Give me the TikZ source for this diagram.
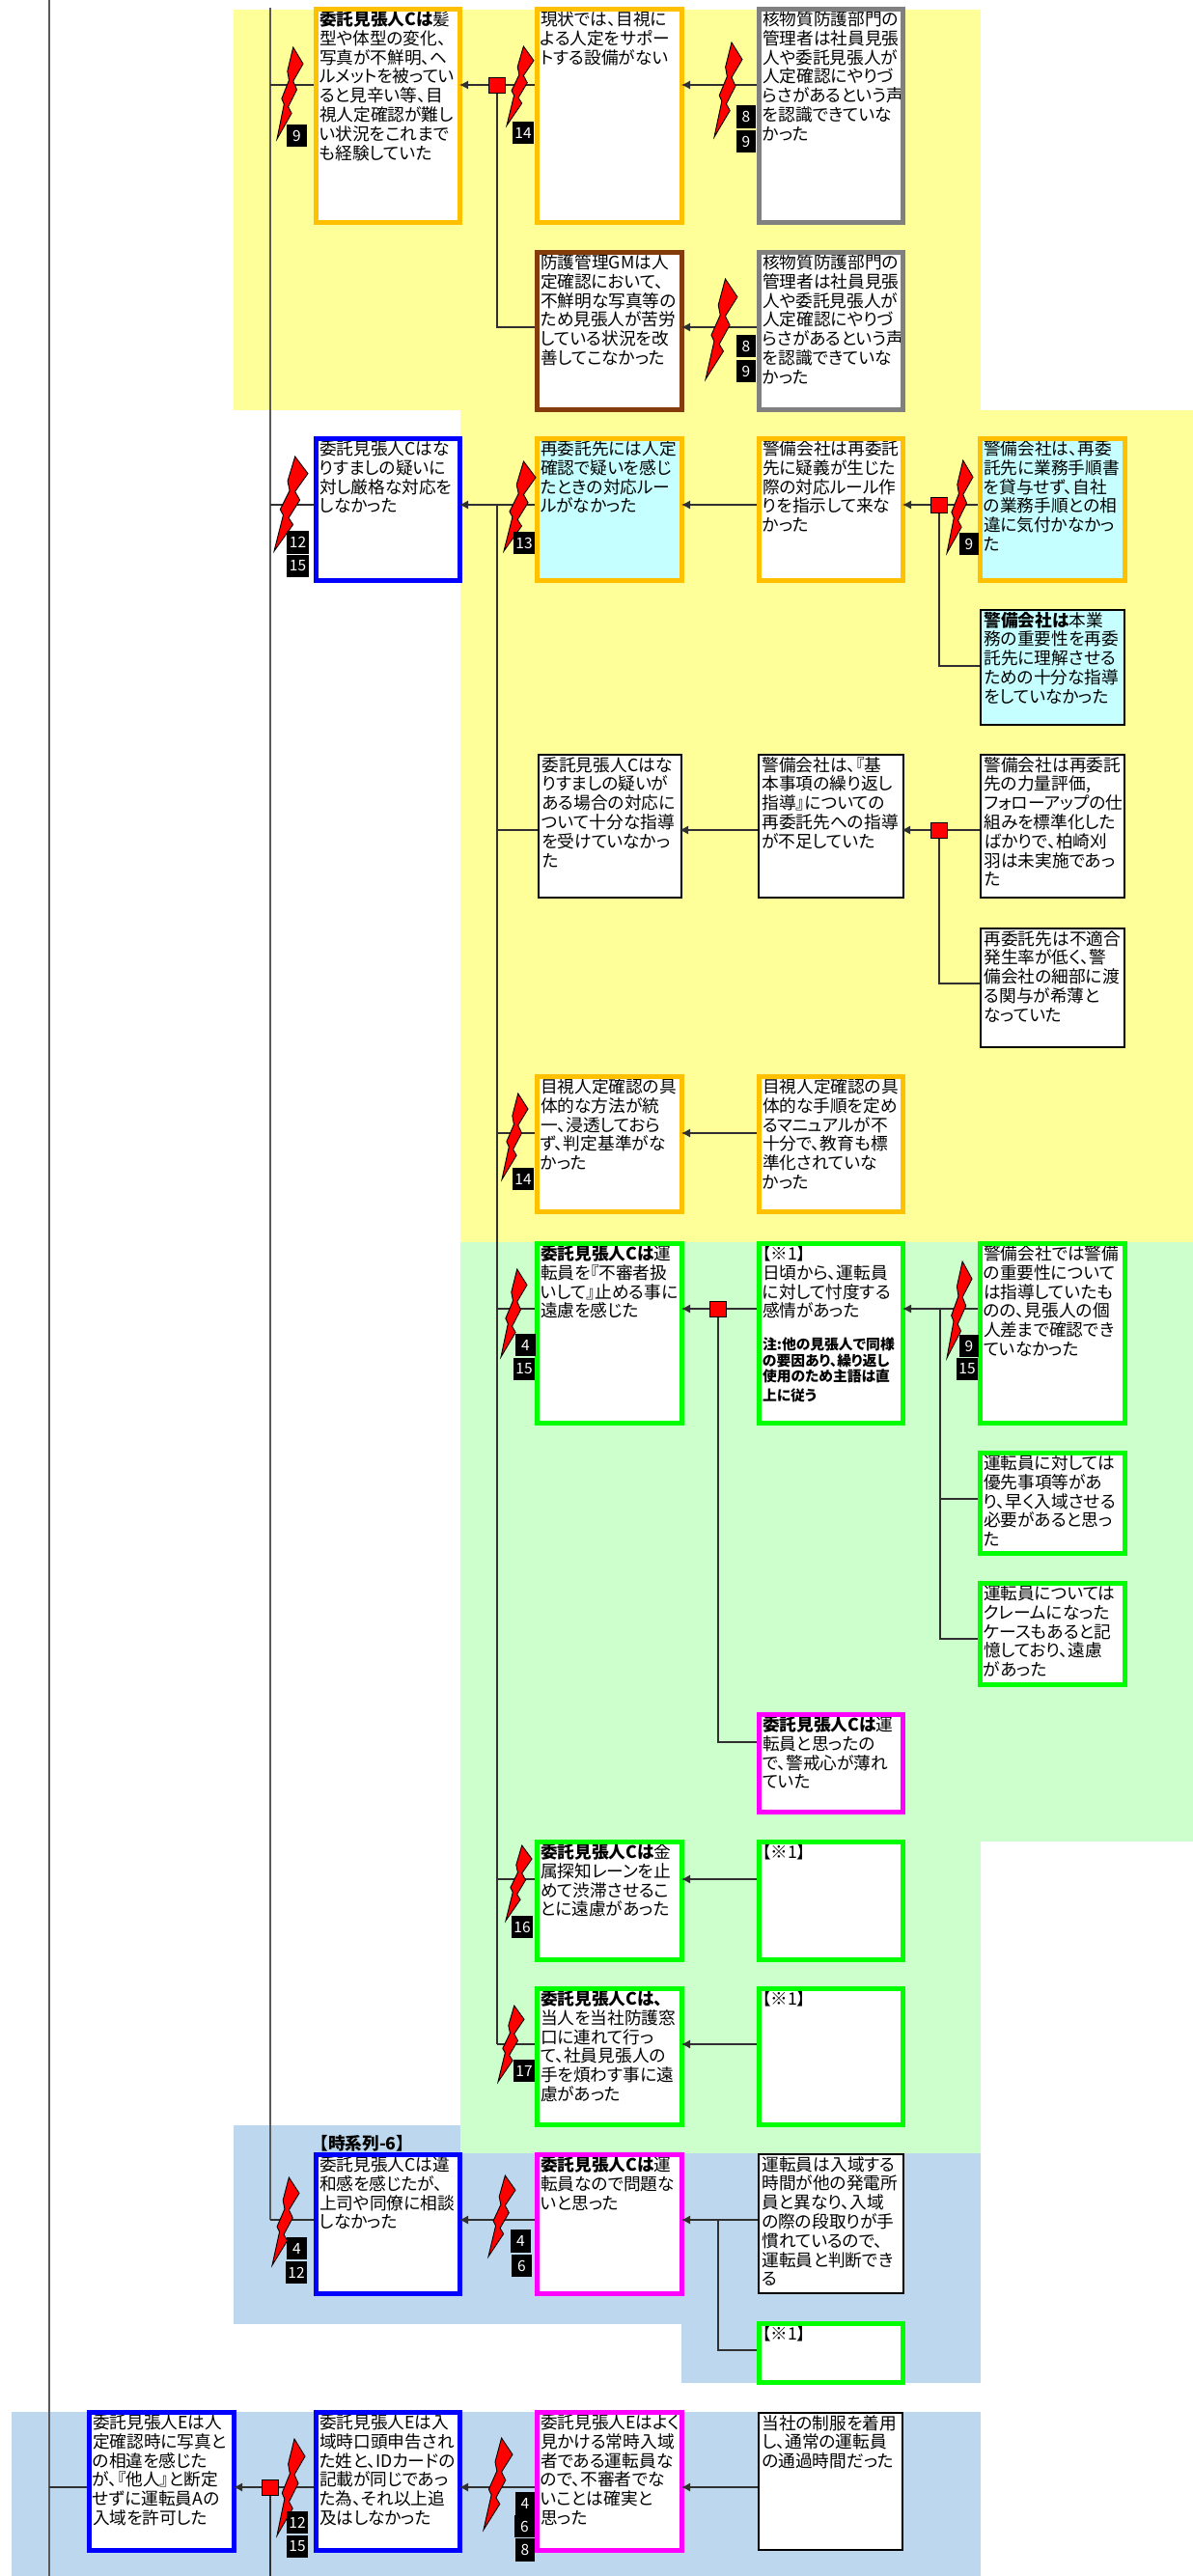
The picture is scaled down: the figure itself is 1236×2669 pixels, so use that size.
\documentclass[tikz,border=0pt]{standalone}
\usepackage{fontspec}
\setmainfont{Noto Sans CJK JP}[RawFeature=+palt]
\usetikzlibrary{arrows.meta,calc}
\definecolor{yel}{HTML}{FFFF99}
\definecolor{grn}{HTML}{CCFFCC}
\definecolor{blu}{HTML}{BDD7EE}
\definecolor{cya}{HTML}{C6FFFF}
\definecolor{org}{HTML}{FFC000}
\definecolor{brn}{HTML}{843C0C}
\definecolor{gry}{HTML}{808080}
\definecolor{ln}{HTML}{303030}
\definecolor{mainln}{HTML}{595959}
\definecolor{mag}{RGB}{255,0,255}
\definecolor{gre}{RGB}{0,255,0}
\definecolor{blb}{RGB}{0,0,255}
\definecolor{rd}{RGB}{255,0,0}
\tikzset{
  obox/.style={draw=org,fill=white},
  oboxc/.style={draw=org,fill=cya},
  bbox/.style={draw=blb,fill=white},
  gbox/.style={draw=gre,fill=white},
  mbox/.style={draw=mag,fill=white},
  brbox/.style={draw=brn,fill=white},
  gybox/.style={draw=gry,fill=white},
  kbox/.style={draw=black,fill=white},
  kboxc/.style={draw=black,fill=cya},
  conn/.style={draw=ln,line width=1.2pt},
  arr/.style={draw=ln,line width=1.2pt,-{Latex[length=9pt,width=9pt]},shorten >=-3pt},
  trunk/.style={draw=mainln,line width=2pt},
  junc/.style={draw=black,line width=1pt,fill=rd,minimum width=17pt,minimum height=16pt,inner sep=0pt},
  badge/.style={fill=black,text=white,inner sep=0pt,font=\fontsize{15.5}{16}\selectfont},
  boltst/.style={draw=black,line width=0.9pt,fill=rd,line join=miter},
}
% lw name x1 y1 x2 y2 style text
\newcommand\bx[8]{%
  \node[#7,line width=#1pt,anchor=north west,inner sep=0pt] (#2) at (#3,#4)
  {\parbox[t][\dimexpr#6pt-#4pt-#1pt\relax][t]{\dimexpr#5pt-#3pt-#1pt\relax}{%
    \fontsize{17.7}{19.8}\selectfont\lineskiplimit=-100pt\hbadness=10000\hfuzz=200pt
    \leftskip=3.5pt\rightskip=0pt plus 1fil\rule{0pt}{17pt}#8}};
  \path[#7,fill=none,line width=#1pt] ({#3+#1/2},{#4+#1/2}) rectangle ({#5-#1/2},{#6-#1/2});}
\newcommand\bdg[6]{%
  \node[badge,minimum width={#4pt-#2pt},minimum height={#5pt-#3pt}] (#1) at ({(#2+#4)/2},{(#3+#5)/2}) {#6};}
\newcommand\bolt[4]{%
  \begin{scope}[shift={(#1,#2)},xscale={#3-#1},yscale={#4-#2}]
    \path[boltst] (.62,0) -- (1,.18) -- (.62,.37) -- (.76,.46) -- (.43,.65) -- (.56,.72) -- (0,1)
      -- (.27,.62) -- (.18,.56) -- (.46,.36) -- (.40,.26) -- cycle;
  \end{scope}}
\newcommand\hb[1]{\textbf{#1}}
\begin{document}
\begin{tikzpicture}[x=1pt,y=-1pt]
\useasboundingbox (0,0) rectangle (1236,2669);
\fill[white] (0,0) rectangle (1236,2669);
% backgrounds
\fill[yel] (242,10) rectangle (1016,425);
\fill[yel] (477,425) rectangle (1236,1287);
\fill[grn] (477,1287) rectangle (1236,1908);
\fill[grn] (477,1908) rectangle (1016,2231);
\fill[blu] (242,2202) rectangle (477,2408);
\fill[blu] (477,2231) rectangle (706,2408);
\fill[blu] (706,2231) rectangle (1016,2469);
\fill[blu] (12,2499) rectangle (1016,2669);
% named helper points
\coordinate (m0) at (51,0);
\coordinate (m1) at (51,2669);
\coordinate (v2t) at (279.5,8);
\coordinate (v2b) at (279.5,2300);
\coordinate (v3t) at (515,523);
\coordinate (v3b) at (515,2118);
\coordinate (r1) at (0,88);
\coordinate (r2) at (0,339);
\coordinate (r3) at (0,523);
\coordinate (r4) at (0,690);
\coordinate (r5) at (0,860);
\coordinate (r6) at (0,1019);
\coordinate (r7) at (0,1174);
\coordinate (r8) at (0,1356);
\coordinate (r9) at (0,1553);
\coordinate (r10) at (0,1698);
\coordinate (r11) at (0,1805);
\coordinate (r12) at (0,1947);
\coordinate (r13) at (0,2118);
\coordinate (r14) at (0,2300);
\coordinate (r15) at (0,2435);
\coordinate (r16) at (0,2577);
\coordinate (b1) at (974,1356);
\coordinate (b2) at (744,2300);
\coordinate (j5e) at (280,2669);
% trunks
\draw[trunk] (m0) -- (m1);
\draw[trunk] (v2t) -- (v2b);
% boxes
\bx{5}{A}{325}{7}{479}{233}{obox}{\hb{委託見張人Cは}髪\\型や体型の変化、\\写真が不鮮明、ヘ\\ルメットを被ってい\\ると見辛い等、目\\視人定確認が難し\\い状況をこれまで\\も経験していた}
\bx{5}{B}{554}{7}{709}{233}{obox}{現状では、目視に\\よる人定をサポー\\トする設備がない}
\bx{5}{C}{554}{259}{709}{427}{brbox}{防護管理GMは人\\定確認において、\\不鮮明な写真等の\\ため見張人が苦労\\している状況を改\\善してこなかった}
\bx{5}{D}{784}{7}{938}{233}{gybox}{核物質防護部門の\\管理者は社員見張\\人や委託見張人が\\人定確認にやりづ\\らさがあるという声\\を認識できていな\\かった}
\bx{5}{Dd}{784}{259}{938}{427}{gybox}{核物質防護部門の\\管理者は社員見張\\人や委託見張人が\\人定確認にやりづ\\らさがあるという声\\を認識できていな\\かった}
\bx{5}{E}{325}{452}{479}{604}{bbox}{委託見張人Cはな\\りすましの疑いに\\対し厳格な対応を\\しなかった}
\bx{5}{F}{554}{452}{709}{604}{oboxc}{再委託先には人定\\確認で疑いを感じ\\たときの対応ルー\\ルがなかった}
\bx{5}{G}{784}{452}{938}{604}{obox}{警備会社は再委託\\先に疑義が生じた\\際の対応ルール作\\りを指示して来な\\かった}
\bx{5}{H}{1013}{452}{1168}{604}{oboxc}{警備会社は、再委\\託先に業務手順書\\を貸与せず、自社\\の業務手順との相\\違に気付かなかっ\\た}
\bx{2}{I}{1015}{631}{1166}{752}{kboxc}{\hb{警備会社は}本業\\務の重要性を再委\\託先に理解させる\\ための十分な指導\\をしていなかった}
\bx{2}{K}{557}{781}{707}{931}{kbox}{委託見張人Cはな\\りすましの疑いが\\ある場合の対応に\\ついて十分な指導\\を受けていなかっ\\た}
\bx{2}{L}{785}{781}{937}{931}{kbox}{警備会社は、『基\\本事項の繰り返し\\指導』についての\\再委託先への指導\\が不足していた}
\bx{2}{M}{1015}{781}{1166}{931}{kbox}{警備会社は再委託\\先の力量評価,\\フォローアップの仕\\組みを標準化した\\ばかりで、柏崎刈\\羽は未実施であっ\\た}
\bx{2}{N}{1015}{961}{1166}{1086}{kbox}{再委託先は不適合\\発生率が低く、警\\備会社の細部に渡\\る関与が希薄と\\なっていた}
\bx{5}{O}{554}{1113}{709}{1258}{obox}{目視人定確認の具\\体的な方法が統\\一、浸透しておら\\ず、判定基準がな\\かった}
\bx{5}{P}{784}{1113}{938}{1258}{obox}{目視人定確認の具\\体的な手順を定め\\るマニュアルが不\\十分で、教育も標\\準化されていな\\かった}
\bx{5}{Q}{554}{1286}{709}{1477}{gbox}{\hb{委託見張人Cは}運\\転員を『不審者扱\\いして』止める事に\\遠慮を感じた}
\bx{5}{R}{784}{1286}{938}{1477}{gbox}{【※1】\\日頃から、運転員\\に対して忖度する\\感情があった\par\vskip16.8pt{\fontsize{14.8}{16.7}\selectfont\bfseries 注:他の見張人で同様\\の要因あり、繰り返し\\使用のため主語は直\\[3pt]上に従う\par}}
\bx{5}{S}{784}{1774}{938}{1880}{mbox}{\hb{委託見張人Cは}運\\転員と思ったの\\で、警戒心が薄れ\\ていた}
\bx{5}{T}{1013}{1286}{1168}{1477}{gbox}{警備会社では警備\\の重要性について\\は指導していたも\\のの、見張人の個\\人差まで確認でき\\ていなかった}
\bx{5}{U}{1013}{1503}{1168}{1612}{gbox}{運転員に対しては\\優先事項等があ\\り、早く入域させる\\必要があると思っ\\た}
\bx{5}{V}{1013}{1638}{1168}{1748}{gbox}{運転員については\\クレームになった\\ケースもあると記\\憶しており、遠慮\\があった}
\bx{5}{W}{554}{1906}{709}{2033}{gbox}{\hb{委託見張人Cは}金\\属探知レーンを止\\めて渋滞させるこ\\とに遠慮があった}
\bx{5}{X}{784}{1906}{938}{2033}{gbox}{【※1】}
\bx{5}{Y}{554}{2058}{709}{2204}{gbox}{\hb{委託見張人Cは、}\\当人を当社防護窓\\口に連れて行っ\\て、社員見張人の\\手を煩わす事に遠\\慮があった}
\bx{5}{Z}{784}{2058}{938}{2204}{gbox}{【※1】}
\bx{5}{AA}{325}{2230}{479}{2379}{bbox}{委託見張人Cは違\\和感を感じたが、\\上司や同僚に相談\\しなかった}
\bx{5}{AB}{554}{2230}{709}{2379}{mbox}{\hb{委託見張人Cは}運\\転員なので問題な\\いと思った}
\bx{2}{AC}{785}{2231}{937}{2377}{kbox}{運転員は入域する\\時間が他の発電所\\員と異なり、入域\\の際の段取りが手\\慣れているので、\\運転員と判断でき\\る}
\bx{5}{AD}{784}{2405}{938}{2471}{gbox}{【※1】}
\bx{5}{AE}{90}{2497}{245}{2645}{bbox}{委託見張人Eは人\\定確認時に写真と\\の相違を感じた\\が、『他人』と断定\\せずに運転員Aの\\入域を許可した}
\bx{5}{AF}{325}{2497}{479}{2645}{bbox}{委託見張人Eは入\\域時口頭申告され\\た姓と、IDカードの\\記載が同じであっ\\た為、それ以上追\\及はしなかった}
\bx{5}{AG}{554}{2497}{709}{2645}{mbox}{委託見張人Eはよく\\見かける常時入域\\者である運転員な\\ので、不審者でな\\いことは確実と\\思った}
\bx{2}{AH}{785}{2499}{936}{2643}{kbox}{当社の制服を着用\\し、通常の運転員\\の通過時間だった}
\node[anchor=west,inner sep=0pt,font=\fontsize{17.7}{19.8}\selectfont\bfseries] (T6) at (331,2221) {【時系列-6】};
% connectors
\draw[conn] (A.west |- r1) -- (v2t |- r1);
\draw[arr] (B.west |- r1) -- (A.east |- r1);
\draw[arr] (D.west |- r1) -- (B.east |- r1);
\draw[arr] (Dd.west |- r2) -- (C.east |- r2);
\draw[conn] (E.west |- r3) -- (v2t |- r3);
\draw[arr] (F.west |- r3) -- (E.east |- r3);
\draw[arr] (G.west |- r3) -- (F.east |- r3);
\draw[arr] (H.west |- r3) -- (G.east |- r3);
\draw[conn] (v3t) -- (v3b);
\draw[conn] (K.west |- r5) -- (v3t |- r5);
\draw[arr] (L.west |- r5) -- (K.east |- r5);
\draw[arr] (M.west |- r5) -- (L.east |- r5);
\draw[conn] (O.west |- r7) -- (v3t |- r7);
\draw[arr] (P.west |- r7) -- (O.east |- r7);
\draw[conn] (Q.west |- r8) -- (v3t |- r8);
\draw[arr] (R.west |- r8) -- (Q.east |- r8);
\draw[arr] (T.west |- r8) -- (R.east |- r8);
\draw[conn] (b1) -- (b1 |- r10) -- (V.west |- r10);
\draw[conn] (b1 |- r9) -- (U.west |- r9);
\draw[conn] (W.west |- r12) -- (v3t |- r12);
\draw[arr] (X.west |- r12) -- (W.east |- r12);
\draw[conn] (Y.west |- r13) -- (v3b);
\draw[arr] (Z.west |- r13) -- (Y.east |- r13);
\draw[conn] (AA.west |- r14) -- (v2b);
\draw[arr] (AB.west |- r14) -- (AA.east |- r14);
\draw[arr] (AC.west |- r14) -- (AB.east |- r14);
\draw[conn] (b2) -- (b2 |- r15) -- (AD.west |- r15);
\draw[conn] (AE.west |- r16) -- (m0 |- r16);
\draw[arr] (AF.west |- r16) -- (AE.east |- r16);
\draw[arr] (AG.west |- r16) -- (AF.east |- r16);
\draw[arr] (AH.west |- r16) -- (AG.east |- r16);
% junctions
\node[junc] (j1) at (515,88) {};
\node[junc] (j2) at (973,523) {};
\node[junc] (j3) at (973,860) {};
\node[junc] (j4) at (744,1356) {};
\node[junc] (j5) at (280,2577) {};
\draw[conn] (j1.south) -- (j1.south |- r2) -- (C.west |- r2);
\draw[conn] (j2.south) -- (j2.south |- r4) -- (I.west |- r4);
\draw[conn] (j3.south) -- (j3.south |- r6) -- (N.west |- r6);
\draw[conn] (j4.south) -- (j4.south |- r11) -- (S.west |- r11);
\draw[conn] (j5.south) -- (j5e);
% bolts
\bolt{287}{49}{314}{144}
\bolt{525}{48}{553}{130}
\bolt{740}{44}{769}{142}
\bolt{731}{289}{764}{393}
\bolt{284}{473}{319}{571}
\bolt{522}{478}{555}{571}
\bolt{981}{477}{1008}{573}
\bolt{520}{1133}{547}{1222}
\bolt{519}{1315}{546}{1406}
\bolt{981}{1307}{1007}{1407}
\bolt{524}{1912}{551}{1990}
\bolt{516}{2078}{543}{2157}
\bolt{282}{2256}{310}{2347}
\bolt{506}{2254}{534}{2338}
\bolt{287}{2527}{316}{2627}
\bolt{501}{2526}{531}{2621}
% badges
\bdg{ba}{297}{129}{318}{152}{9}
\bdg{bb}{531}{126}{553}{149}{14}
\bdg{bc}{763}{109}{783}{133}{8}
\bdg{bd}{763}{135}{783}{158}{9}
\bdg{be}{763}{347}{783}{370}{8}
\bdg{bf}{763}{373}{783}{396}{9}
\bdg{bg}{297}{550}{320}{574}{12}
\bdg{bh}{297}{575}{320}{598}{15}
\bdg{bi}{532}{551}{554}{574}{13}
\bdg{bj}{994}{552}{1014}{575}{9}
\bdg{bk}{531}{1210}{553}{1233}{14}
\bdg{bl}{534}{1382}{555}{1405}{4}
\bdg{bm}{532}{1407}{554}{1430}{15}
\bdg{bn}{994}{1383}{1014}{1406}{9}
\bdg{bo}{991}{1407}{1013}{1430}{15}
\bdg{bp}{530}{1985}{552}{2008}{16}
\bdg{bq}{532}{2134}{554}{2157}{17}
\bdg{br}{297}{2318}{318}{2341}{4}
\bdg{bs}{296}{2343}{318}{2366}{12}
\bdg{bt}{529}{2310}{550}{2334}{4}
\bdg{bu}{530}{2336}{551}{2359}{6}
\bdg{bv}{297}{2602}{319}{2625}{12}
\bdg{bw}{297}{2627}{319}{2650}{15}
\bdg{bx}{534}{2582}{554}{2606}{4}
\bdg{by}{533}{2606}{554}{2629}{6}
\bdg{bz}{534}{2630}{554}{2654}{8}
\end{tikzpicture}
\end{document}
